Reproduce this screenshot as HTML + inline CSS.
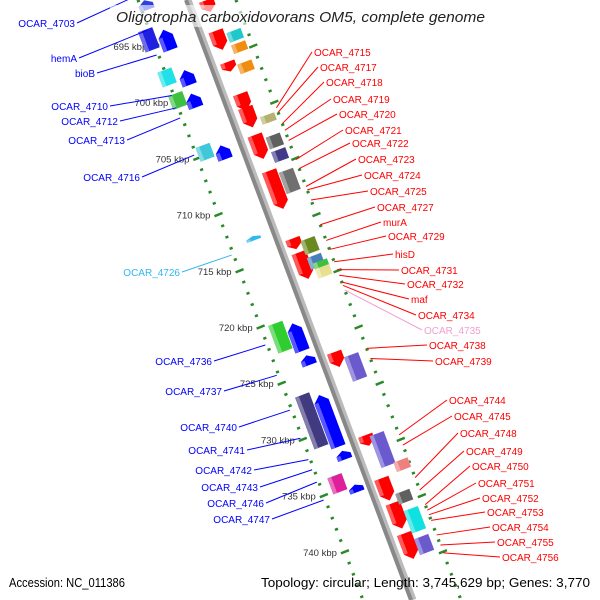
<!DOCTYPE html>
<html><head><meta charset="utf-8"><style>
html,body{margin:0;padding:0;background:#fff}
svg{display:block}
text{font-family:"Liberation Sans","DejaVu Sans",sans-serif}
</style></head><body>
<svg id="map" width="600" height="600" viewBox="0 0 600 600" xmlns="http://www.w3.org/2000/svg">
<g id="ticks"></g>
<line x1="188" y1="0" x2="413" y2="600" stroke="#bbb" stroke-width="7"/>
<line x1="186" y1="0" x2="411" y2="600" stroke="#888" stroke-width="4"/>
<g id="genes"></g>
<g id="labels"></g>
<rect x="110" y="5" width="385" height="22" fill="#fff" opacity="0.6"/>
<text x="116" y="22" font-size="14.5" font-style="italic" fill="#222" textLength="369" lengthAdjust="spacingAndGlyphs">Oligotropha carboxidovorans OM5, complete genome</text>
<text x="9" y="587" font-size="12.5" fill="#000" textLength="116" lengthAdjust="spacingAndGlyphs">Accession: NC_011386</text>
<text x="261" y="587" font-size="12.5" fill="#000" textLength="329" lengthAdjust="spacingAndGlyphs">Topology: circular; Length: 3,745,629 bp; Genes: 3,770</text>
</svg>
<script>
// tick labels (kbp)
const tickKb = [695,700,705,710,715,720,725,730,735,740];
// genes: start kb, end kb, lane offset from backbone, colour, arrow (1 down, -1 up, 0 box)
const geneStart = [690.9,693.5,693.5,697.1,697.1,699.2,699.2,703.8,703.8,711.9,719.6,719.6,722.5,725.9,725.9,731.0,733.2,733.2,734.0,
  690.9,693.6,693.6,694.7,696.4,696.4,699.2,700.4,701.1,702.9,703.2,702.9,704.2,706.0,706.0,712.1,713.3,712.1,713.6,714.1,714.6,722.2,722.4,729.6,729.4,731.8,733.4,735.6,738.3,734.6,736.1,738.6];
const geneEnd   = [691.8,695.4,695.4,698.5,698.5,700.5,700.5,705.1,705.1,712.3,722.2,722.2,723.4,730.8,730.8,731.8,734.1,734.7,734.7,
  692.0,695.4,694.5,695.5,697.3,697.3,700.8,702.3,701.8,703.6,705.1,704.0,705.2,709.6,708.0,713.1,715.8,713.4,714.7,714.8,715.5,723.6,724.7,730.6,732.4,732.7,735.5,738.0,740.7,735.6,738.2,740.1];
const geneOff   = [-42,-52,-34,-48,-28,-46,-30,-38,-20,-22,-32,-15,-13,-32,-15,-13,-30,-30,-13,
  20,18,36,36,18,35,19,19,38,18,18,36,36,19,36,17,18,32,32,36,36,16,32,16,28,42,16,18,18,32,34,34];
const geneColor = ["#3040e0","#2020e0","#0000ff","#20e0e8","#0000ff","#40c040","#0000ff","#40c8d8","#0000ff","#30b8f0","#30cc30","#0000ff","#0000ff","#403a80","#0000ff","#0000ff","#20e0a0","#e0209a","#0000ff",
  "#ff0000","#ff0000","#20c8cc","#f08c10","#ff0000","#f08c10","#ff0000","#ff0000","#b8b070","#ff0000","#ff0000","#606060","#403a88","#ff0000","#707070","#ff0000","#ff0000","#6a8a20","#4a80b8","#40c040","#e8e090","#ff0000","#6a5acd","#ff0000","#6a5acd","#f08080","#ff0000","#ff0000","#ff0000","#606060","#10e0e0","#6a5acd"];
const geneDir   = [-1,0,-1,0,-1,0,-1,0,-1,-1,0,-1,-1,0,-1,-1,0,0,-1,
  1,1,0,0,1,0,1,1,0,1,1,0,0,1,0,1,1,0,0,0,0,1,0,1,0,0,1,1,1,0,0,0];
// right-side labels
const rightNames = ["OCAR_4715","OCAR_4717","OCAR_4718","OCAR_4719","OCAR_4720","OCAR_4721","OCAR_4722","OCAR_4723","OCAR_4724","OCAR_4725","OCAR_4727","murA","OCAR_4729","hisD","OCAR_4731","OCAR_4732","maf","OCAR_4734","OCAR_4735","OCAR_4738","OCAR_4739","OCAR_4744","OCAR_4745","OCAR_4748","OCAR_4749","OCAR_4750","OCAR_4751","OCAR_4752","OCAR_4753","OCAR_4754","OCAR_4755","OCAR_4756"];
const rightTargetKb = [700.5,700.9,701.9,702.5,703.4,705.1,705.9,707.5,707.8,708.7,710.9,712.3,713.1,714.2,714.9,715.4,716.0,716.3,716.7,721.9,722.8,729.6,730.5,733.4,734.5,735.8,736.3,736.7,737.2,738.5,739.4,740.1];
const rightLabelX = [314,320,326,333,339,345,352,358,364,370,377,383,388,395,401,407,411,418,424,429,435,449,454,460,466,472,478,482,487,492,497,502];
const rightLabelY = [56,71,86,103,118,134,147,163,179,195,211,226,240,258,274,288,303,319,334,349,365,404,420,437,455,470,487,502,516,531,546,561];
const leftNames = ["OCAR_4703","hemA","bioB","OCAR_4710","OCAR_4712","OCAR_4713","OCAR_4716","OCAR_4726","OCAR_4736","OCAR_4737","OCAR_4740","OCAR_4741","OCAR_4742","OCAR_4743","OCAR_4746","OCAR_4747"];
const leftTargetKb = [690.6,693.6,695.8,699.4,700.5,701.4,704.7,713.6,721.6,724.3,727.4,729.9,731.8,732.7,733.8,735.4];
const leftLabelX = [75,77,95,108,118,125,140,180,212,222,237,245,252,258,264,270];
const leftLabelY = [27,62,77,110,125,144,181,276,365,395,431,454,474,491,507,523];

const NS="http://www.w3.org/2000/svg";
const yOf = kb => 46 + (kb-695)*11.24;
const bx = y => 186 + 0.375*y;
function mk(tag, attrs, parent){const e=document.createElementNS(NS,tag);for(const k in attrs)e.setAttribute(k,attrs[k]);parent.appendChild(e);return e;}

// dotted tick tracks
const tg=document.getElementById('ticks');
for(let kb=690; kb<=746; kb++){
  const y=yOf(kb);
  [-48,50].forEach(off=>{
    const x=bx(y)+off;
    const big = kb%5===0;
    const L = big?4:1.5;
    const t=mk('line',{x1:x-L,y1:y+L*0.4,x2:x+L,y2:y-L*0.4,stroke:'#2a8a2a','stroke-width':2.5},tg);
    
    
  });
}
tickKb.forEach(kb=>{
  const y=yOf(kb);
  const t=mk('text',{x:bx(y)-56,y:y+4,'font-size':9.5,fill:'#333','text-anchor':'end'},tg);
  t.textContent=kb+' kbp';
  
  
});

// genes as rectangles aligned with the backbone
const gg=document.getElementById('genes');
const un=Math.hypot(0.375,1), ux=0.375/un, uy=1/un, nx=uy, ny=-ux;
function shade(c,f){const n=parseInt(c.slice(1),16);let r=n>>16,g=(n>>8)&255,b=n&255;r=Math.round(r+(255-r)*f);g=Math.round(g+(255-g)*f);b=Math.round(b+(255-b)*f);return `rgb(${r},${g},${b})`;}
for(let i=0;i<geneStart.length;i++){
  const y1=yOf(geneStart[i]), y2=yOf(geneEnd[i]);
  const ym=(y1+y2)/2, cx=bx(ym)+geneOff[i], cy=ym;
  const half=(y2-y1)/2*un/1.0*0.94;
  const w=7.5, d=geneDir[i];
  const P=(a,b)=>[cx+ux*a+nx*b, cy+uy*a+ny*b];
  const h=Math.min(7,half*0.9);
  let pts;
  if(d===1) pts=[P(-half,-w),P(-half,w),P(half-h,w),P(half,0),P(half-h,-w)];
  else if(d===-1) pts=[P(-half,0),P(-half+h,w),P(half,w),P(half,-w),P(-half+h,-w)];
  else pts=[P(-half,-w),P(-half,w),P(half,w),P(half,-w)];
  const p=mk('polygon',{points:pts.map(q=>q.map(v=>v.toFixed(1)).join(',')).join(' '),fill:geneColor[i]},gg);
  
  
  const e2 = d===1?half-h:half, s2 = d===-1?-half+h:-half;
  const hl=mk('polygon',{points:[P(s2,-w),P(s2,-w+4),P(e2,-w+4),P(e2,-w)].map(q=>q.map(v=>v.toFixed(1)).join(',')).join(' '),fill:shade(geneColor[i],0.35)},gg);
  
  
}

// labels
const lg=document.getElementById('labels');
rightNames.forEach((n,i)=>{
  const ty=yOf(rightTargetKb[i]), tx=bx(ty)+50;
  const col = n==='OCAR_4735'?'#f0a0d0':'#ff0000';
  const l=mk('line',{x1:rightLabelX[i]-2,y1:rightLabelY[i]-4,x2:tx,y2:ty,stroke:col,'stroke-width':1},lg);
  
  
  const t=mk('text',{x:rightLabelX[i],y:rightLabelY[i],'font-size':10,fill:col},lg);
  t.textContent=n;
  
  
});
leftNames.forEach((n,i)=>{
  const ty=yOf(leftTargetKb[i]), tx=bx(ty)-50;
  const col = n==='OCAR_4726'?'#30b8f0':'#0000ff';
  const l=mk('line',{x1:leftLabelX[i]+2,y1:leftLabelY[i]-4,x2:tx,y2:ty,stroke:col,'stroke-width':1},lg);
  
  
  const t=mk('text',{x:leftLabelX[i],y:leftLabelY[i],'font-size':10,fill:col,'text-anchor':'end'},lg);
  t.textContent=n;
  
  
});
</script>
</body></html>
